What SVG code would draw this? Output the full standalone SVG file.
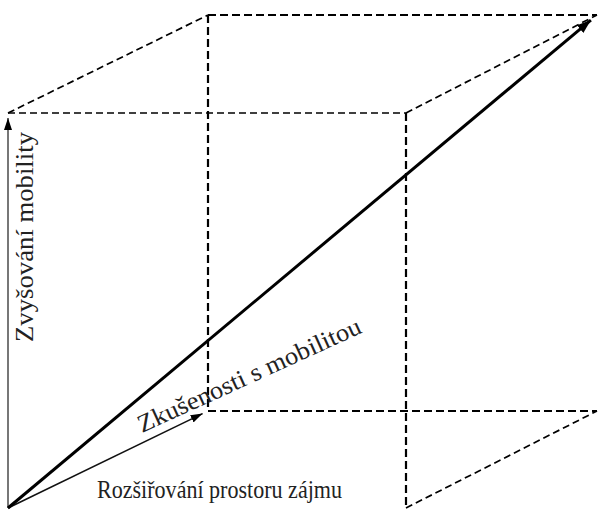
<svg xmlns="http://www.w3.org/2000/svg" width="598" height="510" viewBox="0 0 598 510">
<style>
.d{fill:none;stroke:#000;stroke-width:2.2;stroke-dasharray:8 4}
.dt{fill:none;stroke:#000;stroke-width:1.7;stroke-dasharray:7 4}
.lbl{font-family:"Liberation Serif","Times New Roman",serif;font-size:25px;fill:#222}
</style>
<defs>
<marker id="ah" markerUnits="userSpaceOnUse" markerWidth="14" markerHeight="10" refX="14" refY="5" orient="auto" viewBox="0 0 14 10">
<path d="M0,0 L14,5 L0,10 z" fill="#000"/>
</marker>
<marker id="ahs" markerUnits="userSpaceOnUse" markerWidth="12" markerHeight="8" refX="12" refY="4" orient="auto" viewBox="0 0 12 8">
<path d="M0,0 L12,4 L0,8 z" fill="#000"/>
</marker>
</defs>
<rect width="598" height="510" fill="#fff"/>
<g id="box">
<line class="d" x1="208" y1="15" x2="597" y2="15"/>
<line class="d" x1="208" y1="15" x2="208" y2="411"/>
<line class="d" x1="208" y1="411" x2="597" y2="411"/>
<line class="dt" x1="8" y1="113" x2="406" y2="113"/>
<line class="d" x1="406" y1="113" x2="406" y2="508"/>
<line class="dt" x1="8" y1="113" x2="208" y2="15"/>
<line class="dt" x1="406" y1="113" x2="597" y2="15"/>
<line class="dt" x1="406" y1="508" x2="597" y2="411"/>
</g>
<g id="connectors">
<line x1="8" y1="508" x2="8" y2="118" stroke="#555" stroke-width="1.6" marker-end="url(#ahs)"/>
<line x1="8" y1="508" x2="202.6" y2="413.6" stroke="#111" stroke-width="1.6" marker-end="url(#ahs)"/>
<line x1="8" y1="508" x2="590.9" y2="20.1" stroke="#000" stroke-width="3" marker-end="url(#ah)"/>
</g>
<g id="label-y">
<text class="lbl" transform="translate(33,342) rotate(-90)" textLength="210" lengthAdjust="spacingAndGlyphs">Zvyšování mobility</text>
</g>
<g id="label-z">
<text class="lbl" transform="translate(142,433) rotate(-24.5)" textLength="243" lengthAdjust="spacingAndGlyphs">Zkušenosti s mobilitou</text>
</g>
<g id="label-x">
<text class="lbl" x="97" y="498" textLength="245" lengthAdjust="spacingAndGlyphs">Rozšiřování prostoru zájmu</text>
</g>
</svg>
